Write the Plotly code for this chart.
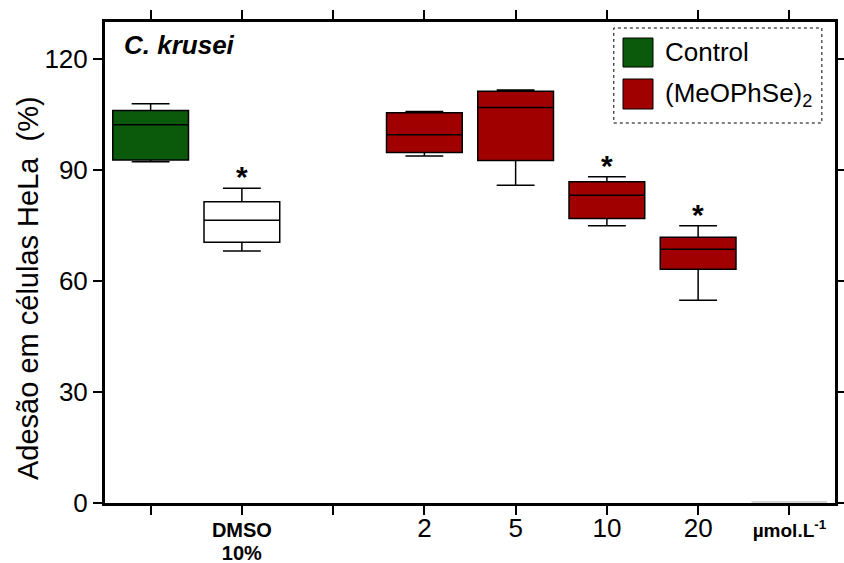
import plotly.graph_objects as go

# ---- data ----
positions = [1, 2, 4, 5, 6, 7]
groups = ["Control", "DMSO 10%", "2", "5", "10", "20"]
lower_fence = [92.2, 68.1, 93.8, 85.9, 74.9, 54.8]
q1_vals = [92.7, 70.5, 94.7, 92.6, 76.9, 63.2]
median_vals = [102.2, 76.4, 99.5, 106.9, 83.2, 68.6]
q3_vals = [106.1, 81.4, 105.5, 111.3, 86.8, 71.8]
upper_fence = [107.9, 85.1, 105.8, 111.6, 88.2, 74.9]
fill_colors = ["#0b5a0b", "#ffffff", "#a00000", "#a00000", "#a00000", "#a00000"]
significant = [False, True, False, False, True, True]

tick_positions = [1, 2, 3, 4, 5, 6, 7, 8]
tick_labels = ["",
               "<b><span style='font-size:20px'>DMSO</span><br><span style='font-size:20px'>10%</span></b>",
               "",
               "<span style='font-size:26px'>2</span>",
               "<span style='font-size:26px'>5</span>",
               "<span style='font-size:26px'>10</span>",
               "<span style='font-size:26px'>20</span>",
               "<b><span style='font-size:19px'>µmol.L<sup>-1</sup></span></b>"]
y_ticks = [0, 30, 60, 90, 120]
y_title = "Adesão em células HeLa  (%)"

FONT = "Liberation Sans, Arial, sans-serif"

fig = go.Figure()
for i, pos in enumerate(positions):
    fig.add_trace(go.Box(
        x=[pos], q1=[q1_vals[i]], median=[median_vals[i]], q3=[q3_vals[i]],
        lowerfence=[lower_fence[i]], upperfence=[upper_fence[i]],
        name=groups[i], width=0.83, whiskerwidth=0.5,
        fillcolor=fill_colors[i], line=dict(color="#000000", width=1.5),
        boxpoints=False, showlegend=False, hoverinfo="skip"))

# empty placeholder box at the unit position
fig.add_trace(go.Box(
    x=[8], q1=[0.3], median=[0.3], q3=[0.3], lowerfence=[0.3], upperfence=[0.3],
    width=0.83, whiskerwidth=0.5, fillcolor="#ffffff",
    line=dict(color="#c8c8c8", width=1.5), boxpoints=False,
    showlegend=False, hoverinfo="skip"))

# significance asterisks
for i, pos in enumerate(positions):
    if significant[i]:
        fig.add_annotation(x=pos, y=upper_fence[i], text="<b>*</b>",
                           showarrow=False, xref="x", yref="y",
                           yanchor="bottom", yshift=-7,
                           font=dict(family=FONT, size=30, color="#000000"))

# y-axis title
fig.add_annotation(x=-0.1055, y=0.447, xref="paper", yref="paper",
                   text=y_title, showarrow=False, textangle=-90,
                   xanchor="center", yanchor="middle",
                   font=dict(family=FONT, size=29, color="#000000"))

# species label
fig.add_annotation(x=0.023, y=0.952, xref="paper", yref="paper",
                   text="<b><i>C. krusei</i></b>", showarrow=False,
                   xanchor="left", yanchor="middle",
                   font=dict(family=FONT, size=26, color="#000000"))

# legend (drawn manually)
fig.add_shape(type="rect", xref="paper", yref="paper",
              x0=0.697, x1=0.982, y0=0.790, y1=0.9875,
              line=dict(color="#000000", width=1, dash="dot"),
              fillcolor="rgba(0,0,0,0)")
legend_items = [("Control", "#0b5a0b", 0.9064, 0.9667, 0.9376),
                ("(MeOPhSe)<sub>2</sub>", "#a00000", 0.8191, 0.8815, 0.8503)]
for label, col, y0, y1, yc in legend_items:
    fig.add_shape(type="rect", xref="paper", yref="paper",
                  x0=0.7096, x1=0.7507, y0=y0, y1=y1,
                  line=dict(color="#000000", width=1), fillcolor=col)
    fig.add_annotation(x=0.7644, y=yc, xref="paper", yref="paper",
                       text=label, showarrow=False, xanchor="left",
                       yanchor="middle",
                       font=dict(family=FONT, size=26, color="#000000"))

fig.update_layout(
    width=844, height=563,
    margin=dict(l=105, r=9, t=22, b=60),
    paper_bgcolor="#ffffff", plot_bgcolor="#ffffff",
    boxmode="overlay",
    font=dict(family=FONT, color="#000000"),
    xaxis=dict(range=[0.5, 8.5], tickmode="array", tickvals=tick_positions,
               ticktext=tick_labels, ticks="outside", ticklen=9, tickwidth=2,
               tickcolor="#000000", showline=True, linewidth=3,
               linecolor="#000000", mirror="ticks", showgrid=False,
               zeroline=False, automargin=False,
               tickfont=dict(family=FONT, size=18)),
    yaxis=dict(range=[0, 130], tickmode="array", tickvals=y_ticks,
               ticks="outside", ticklen=9, tickwidth=2, tickcolor="#000000",
               showline=True, linewidth=3, linecolor="#000000",
               mirror="ticks", showgrid=False, zeroline=False,
               automargin=False,
               tickfont=dict(family=FONT, size=26)),
)

fig.write_html("out.html")
